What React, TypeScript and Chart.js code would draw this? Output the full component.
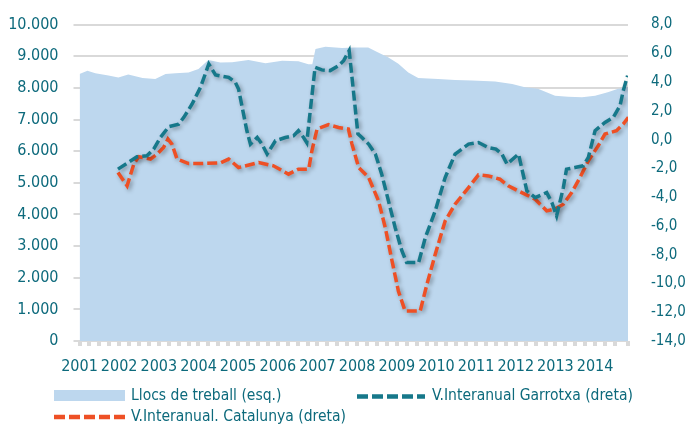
import { useEffect, useRef } from 'react';
import { Chart, registerables } from 'chart.js';

Chart.register(...registerables);

// ---- Data ----
const yearTicks = [2001, 2002, 2003, 2004, 2005, 2006, 2007, 2008, 2009, 2010, 2011, 2012, 2013, 2014];

// Llocs de treball (left axis)
const jobsDates = [
  2001.0, 2001.2, 2001.4, 2001.73, 2001.98, 2002.23, 2002.59, 2002.91, 2003.17, 2003.42,
  2003.75, 2004.0, 2004.25, 2004.55, 2004.85, 2005.26, 2005.69, 2006.11, 2006.52, 2006.77,
  2006.87, 2006.95, 2007.2, 2007.62, 2007.95, 2008.28, 2008.53, 2008.78, 2009.04, 2009.29,
  2009.54, 2010.04, 2010.47, 2010.9, 2011.48, 2011.91, 2012.23, 2012.56, 2012.99, 2013.32,
  2013.67, 2014.0, 2014.32, 2014.58, 2014.83,
];
const jobsValues = [
  8440, 8540, 8460, 8390, 8330, 8420, 8310, 8280, 8440, 8460,
  8490, 8600, 8880, 8800, 8810, 8880, 8780, 8860, 8840, 8750,
  8750, 9230, 9300, 9260, 9280, 9280, 9120, 8970, 8760, 8490,
  8310, 8280, 8250, 8230, 8200, 8120, 8020, 7970, 7750, 7720,
  7700, 7750, 7860, 7970, 8020,
];

// V.Interanual Garrotxa (right axis)
const garrotxaDates = [
  2001.97, 2002.45, 2002.7, 2002.87, 2003.04, 2003.25, 2003.5, 2003.63, 2003.84, 2004.05,
  2004.26, 2004.43, 2004.76, 2004.93, 2005.01, 2005.22, 2005.31, 2005.48, 2005.6, 2005.73,
  2005.94, 2006.19, 2006.4, 2006.52, 2006.65, 2006.73, 2006.94, 2007.11, 2007.32, 2007.53,
  2007.66, 2007.8, 2008.02, 2008.12, 2008.29, 2008.46, 2008.62, 2008.79, 2008.96, 2009.13,
  2009.25, 2009.55, 2009.72, 2009.97, 2010.22, 2010.47, 2010.81, 2011.06, 2011.31, 2011.5,
  2011.65, 2011.78, 2012.07, 2012.28, 2012.49, 2012.78, 2012.91, 2013.03, 2013.2, 2013.28,
  2013.49, 2013.7, 2013.83, 2014.0, 2014.25, 2014.46, 2014.63, 2014.71, 2014.82,
];
const garrotxaValues = [
  -2.05, -1.19, -1.12, -0.66, 0.15, 0.9, 1.08, 1.55, 2.48, 3.63,
  5.26, 4.5, 4.33, 3.98, 3.52, 0.62, -0.31, 0.15, -0.31, -1.0,
  -0.08, 0.15, 0.27, 0.62, 0.15, -0.2, 5.03, 4.85, 4.8, 5.14,
  5.49, 6.19, 0.4, 0.15, -0.31, -1.0, -2.4, -4.26, -6.12, -7.74,
  -8.55, -8.55, -6.81, -4.95, -2.63, -1.0, -0.31, -0.2, -0.55, -0.66,
  -1.0, -1.7, -1.0, -3.56, -4.03, -3.68, -4.37, -5.3, -3.33, -2.05,
  -1.94, -1.82, -1.24, 0.62, 1.2, 1.55, 2.36, 3.4, 4.45,
];

// V.Interanual. Catalunya (right axis)
const catalunyaDates = [
  2001.97, 2002.2, 2002.37, 2002.49, 2002.79, 2002.96, 2003.12, 2003.23, 2003.33, 2003.46,
  2003.75, 2004.09, 2004.55, 2004.76, 2005.01, 2005.52, 2005.89, 2006.27, 2006.52, 2006.78,
  2006.86, 2006.99, 2007.28, 2007.53, 2007.78, 2007.87, 2008.04, 2008.29, 2008.54, 2008.71,
  2008.88, 2009.04, 2009.21, 2009.59, 2009.76, 2009.97, 2010.22, 2010.47, 2010.81, 2011.06,
  2011.31, 2011.6, 2011.81, 2012.15, 2012.49, 2012.78, 2012.99, 2013.2, 2013.41, 2013.62,
  2013.83, 2014.08, 2014.25, 2014.54, 2014.71, 2014.84,
];
const catalunyaValues = [
  -2.28, -3.21, -1.7, -1.19, -1.35, -1.0, -0.54, 0.04, -0.31, -1.35,
  -1.66, -1.66, -1.62, -1.35, -1.94, -1.59, -1.82, -2.4, -2.05, -2.05,
  -0.77, 0.74, 1.04, 0.85, 0.74, -0.31, -1.94, -2.63, -4.26, -6.12,
  -8.43, -10.52, -11.92, -11.92, -10.06, -7.97, -5.65, -4.49, -3.33, -2.45,
  -2.52, -2.75, -3.21, -3.68, -4.14, -4.95, -4.83, -4.49, -3.68, -2.63,
  -1.47, -0.43, 0.39, 0.62, 1.08, 1.55,
];

const seriesLabels = [
  'V.Interanual Garrotxa (dreta)',
  'V.Interanual. Catalunya (dreta)',
  'Llocs de treball (esq.)',
];

// ---- Styles ----
const FONT = "'Liberation Sans Narrow', 'DejaVu Sans Condensed', 'Arial Narrow', sans-serif";
const TEXT = '#0d6a7c';
const TEAL = '#16788a';
const RED = '#ee5025';
const AREA = '#bdd7ee';
const GRID = '#d9d9d9';
const TICK_SIZE = 16;
const LEGEND_SIZE = 15.5;

const toPoints = (xs: number[], ys: number[]) => xs.map((x, i) => ({ x, y: ys[i] }));

const shadowPlugin = {
  id: 'lineShadow',
  beforeDatasetDraw(chart: any, args: any) {
    if (args.index < 2) {
      const ctx = chart.ctx;
      ctx.save();
      ctx.shadowColor = 'rgba(0,0,0,0.35)';
      ctx.shadowBlur = 4;
      ctx.shadowOffsetX = 2;
      ctx.shadowOffsetY = 2;
    }
  },
  afterDatasetDraw(chart: any, args: any) {
    if (args.index < 2) chart.ctx.restore();
  },
};

const legendPlugin = {
  id: 'customLegend',
  afterDraw(chart: any) {
    const ctx = chart.ctx;
    const ds = chart.data.datasets;
    ctx.save();
    ctx.font = `${LEGEND_SIZE}px ${FONT}`;
    ctx.textBaseline = 'middle';
    ctx.textAlign = 'left';
    // area swatch
    ctx.fillStyle = AREA;
    ctx.fillRect(54, 390, 71, 11);
    ctx.fillStyle = TEXT;
    ctx.fillText(ds[2].label, 131, 396);
    // Garrotxa
    ctx.lineWidth = 4.5;
    ctx.setLineDash([11, 4]);
    ctx.strokeStyle = TEAL;
    ctx.beginPath();
    ctx.moveTo(357, 396.5);
    ctx.lineTo(425, 396.5);
    ctx.stroke();
    ctx.fillText(ds[0].label, 432, 396);
    // Catalunya
    ctx.strokeStyle = RED;
    ctx.beginPath();
    ctx.moveTo(54, 417);
    ctx.lineTo(125, 417);
    ctx.stroke();
    ctx.fillText(ds[1].label, 131, 417);
    ctx.restore();
  },
};

export default function App() {
  const ref = useRef<HTMLCanvasElement | null>(null);

  useEffect(() => {
    if (!ref.current) return;
    Chart.defaults.font.family = FONT;
    const chart = new Chart(ref.current, {
      type: 'line',
      data: {
        datasets: [
          {
            label: seriesLabels[0],
            data: toPoints(garrotxaDates, garrotxaValues),
            yAxisID: 'y1',
            borderColor: TEAL,
            borderWidth: 3.5,
            borderDash: [10, 4],
            pointRadius: 0,
            fill: false,
            tension: 0,
          },
          {
            label: seriesLabels[1],
            data: toPoints(catalunyaDates, catalunyaValues),
            yAxisID: 'y1',
            borderColor: RED,
            borderWidth: 3.5,
            borderDash: [10, 4],
            pointRadius: 0,
            fill: false,
            tension: 0,
          },
          {
            label: seriesLabels[2],
            data: toPoints(jobsDates, jobsValues),
            yAxisID: 'y',
            borderWidth: 0,
            borderColor: AREA,
            backgroundColor: AREA,
            pointRadius: 0,
            fill: 'origin',
            tension: 0,
          },
        ],
      },
      options: {
        responsive: false,
        animation: false,
        events: [],
        layout: { padding: { top: 7.4, bottom: 50, left: 0, right: 0 } },
        plugins: {
          legend: { display: false },
          tooltip: { enabled: false },
        },
        scales: {
          x: {
            type: 'linear',
            min: 2001,
            max: 2014.83,
            afterFit: (s: any) => { s.height = 34; },
            ticks: {
              stepSize: 0.25,
              autoSkip: false,
              maxRotation: 0,
              color: TEXT,
              font: { size: TICK_SIZE },
              padding: 11.5,
              callback: (v: any) => (yearTicks.includes(Number(v)) ? String(v) : ''),
            },
            grid: { drawOnChartArea: false, drawTicks: true, tickLength: 5, color: GRID, lineWidth: 4 },
            border: { display: false },
          },
          y: {
            position: 'left',
            min: 0,
            max: 10000,
            afterFit: (s: any) => { s.width = 79.5; },
            ticks: {
              stepSize: 1000,
              color: TEXT,
              font: { size: TICK_SIZE },
              padding: 15,
              callback: (v: any) => (Number(v) === 0 ? '0' : `${Number(v) / 1000}.000`),
            },
            grid: { color: GRID, lineWidth: 2, tickLength: 6 },
            border: { display: false },
          },
          y1: {
            position: 'right',
            min: -14,
            max: 8,
            afterFit: (s: any) => { s.width = 58; },
            ticks: {
              stepSize: 2,
              color: TEXT,
              font: { size: 15 },
              padding: 15,
              callback: (v: any) => Number(v).toFixed(1).replace('-0.0', '0.0').replace('.', ','),
            },
            grid: { display: false },
            border: { display: false },
          },
        },
      },
      plugins: [shadowPlugin, legendPlugin],
    } as any);
    return () => chart.destroy();
  }, []);

  return (
    <div style={{ position: 'fixed', left: 0, top: 0, width: 686, height: 425, background: '#fff' }}>
      <canvas ref={ref} width={686} height={425} style={{ width: 686, height: 425, display: 'block' }} />
    </div>
  );
}
